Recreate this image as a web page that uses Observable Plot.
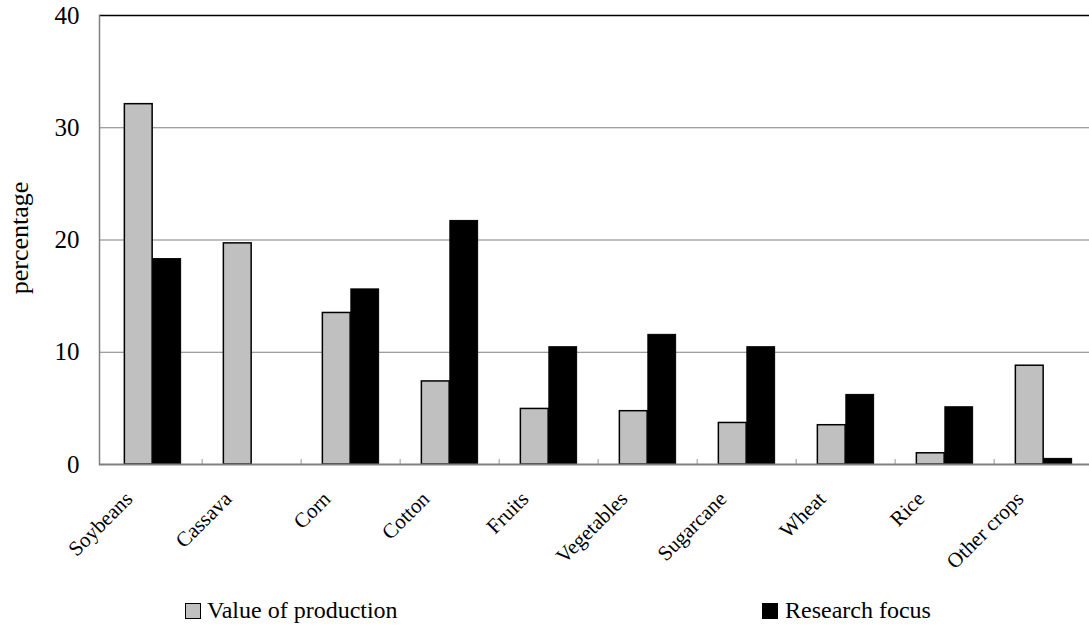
<!DOCTYPE html>
<html>
<head>
<meta charset="utf-8">
<script src="https://cdn.jsdelivr.net/npm/d3@7"></script>
<script src="https://cdn.jsdelivr.net/npm/@observablehq/plot@0.6"></script>
<style>
  html, body { margin: 0; padding: 0; background: #fff; }
  #wrap { width: 1089px; height: 626px; position: relative; overflow: hidden; font-family: "Liberation Serif", "Times New Roman", serif; }
  #legend { position: relative; width: 1089px; height: 46px; font-family: "Liberation Serif", "Times New Roman", serif; }
  .sw { position: absolute; top: 23px; width: 14px; height: 14px; border: 1px solid #000; box-sizing: content-box; }
  .lt { position: absolute; top: 15px; font-size: 24px; line-height: 30px; color: #000; white-space: nowrap; }
  svg text { font-family: "Liberation Serif", "Times New Roman", serif; }
</style>
</head>
<body>
<div id="wrap">
  <div id="chart"></div>
  <div id="legend">
    <div class="sw" style="left:185px; background:#C0C0C0;"></div>
    <div class="lt" style="left:207px;">Value of production</div>
    <div class="sw" style="left:762px; background:#000;"></div>
    <div class="lt" style="left:785px;">Research focus</div>
  </div>
</div>
<script>
const categories = ["Soybeans", "Cassava", "Corn", "Cotton", "Fruits", "Vegetables", "Sugarcane", "Wheat", "Rice", "Other crops"];
const valueOfProduction = [32.1, 19.7, 13.5, 7.4, 4.95, 4.75, 3.7, 3.5, 1.0, 8.8];
const researchFocus = [18.3, 0, 15.6, 21.7, 10.45, 11.55, 10.45, 6.2, 5.1, 0.5];
const yTicks = [0, 10, 20, 30, 40];

const prodData = categories.map((c, i) => ({category: c, value: valueOfProduction[i]})).filter(d => d.value > 0);
const focusData = categories.map((c, i) => ({category: c, value: researchFocus[i]})).filter(d => d.value > 0);

const W = 1089, H = 580;
const xRange = [99, 1096];
const bw = (xRange[1] - xRange[0]) / categories.length;
const barW = bw / 3.5;           // Excel gap width 150%
const sideGap = (bw - 2 * barW) / 2;
const font = "Liberation Serif, Times New Roman, serif";

const chart = Plot.plot({
  width: W,
  height: H,
  marginTop: 15,
  marginBottom: 116,
  marginLeft: 99,
  marginRight: 0,
  style: {fontFamily: font, color: "#000", background: "#fff", overflow: "visible"},
  x: {domain: categories, range: xRange, padding: 0, label: null},
  y: {domain: [0, 40], label: null},
  marks: [
    Plot.ruleY([10, 20, 30], {stroke: "#808080", strokeWidth: 1}),
    Plot.ruleY([40], {stroke: "#000", strokeWidth: 1.6}),
    Plot.barY(prodData, {x: "category", y: "value", fill: "#C0C0C0", stroke: "#000", strokeWidth: 1.5,
      insetLeft: sideGap, insetRight: bw - sideGap - barW}),
    Plot.barY(focusData, {x: "category", y: "value", fill: "#000", stroke: "#000", strokeWidth: 1,
      insetLeft: sideGap + barW, insetRight: sideGap}),
    Plot.ruleX(categories.slice(1), {x: d => d, y1: 0, y2: 0.45, dx: -bw / 2, stroke: "#999", strokeWidth: 1}),
    Plot.ruleY([0], {stroke: "#808080", strokeWidth: 2}),
    Plot.frame({anchor: "left", stroke: "#808080", strokeWidth: 1.5}),
    Plot.axisY({ticks: yTicks, tickSize: 0, tickPadding: 20, fontSize: 25, fontFamily: font, label: null, tickFormat: d => String(d)}),
    Plot.axisX({tickRotate: -45, tickSize: 0, tickPadding: 31, dx: -24, fontSize: 21, fontFamily: font, label: null}),
    Plot.text(["percentage"], {frameAnchor: "left", textAnchor: "middle", rotate: -90, dx: -80, dy: -2, fontSize: 26, fontFamily: font, fill: "#000"})
  ]
});
document.getElementById("chart").appendChild(chart);
</script>
</body>
</html>
